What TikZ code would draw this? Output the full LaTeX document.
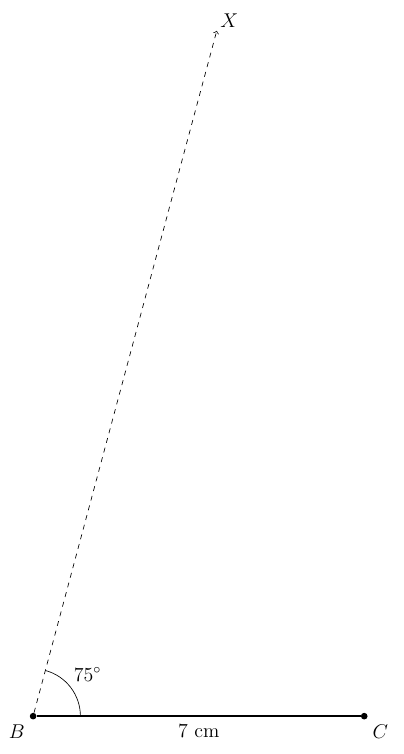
\documentclass[tikz,border=0pt]{standalone}
\usepackage{amsfonts,amsmath,amssymb}
\usepackage{xcolor}
\definecolor{black}{RGB}{0,0,0}
\begin{document}
\begin{tikzpicture}[font=\large,dot/.style={circle,fill=black,inner sep=0pt,minimum size=4pt}]
            \useasboundingbox (-0.70,-0.80) rectangle (7.84,15.14);
            \node[dot,label=below left:$B$] (B) at (0,0) {};
            \node[dot,label=below right:$C$] (C) at (7,0) {};
            \coordinate (X) at (75:15);
            \node[above right,inner sep=2pt] (XL) at (X) {$X$};
            \node (Ang) at (37.5:1.45) {$75^\circ$};

            \path [thick] (B) edge node[below,yshift=-1pt] {7 cm} (C);
            \path [dashed,->] (B) edge (X);
            \draw ([shift={(0:1)}]B.center) arc (0:75:1);
        \end{tikzpicture}
\end{document}
